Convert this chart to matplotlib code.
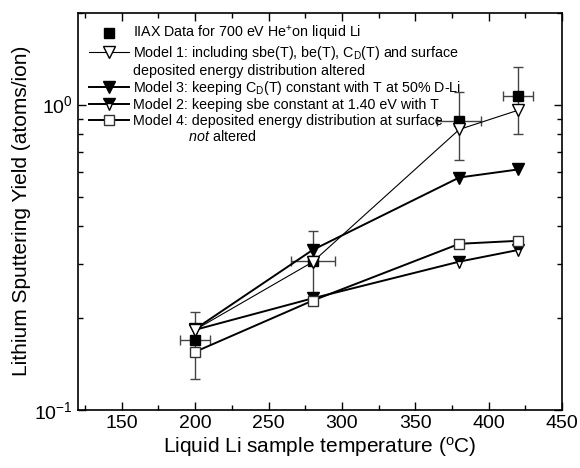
import numpy as np
import matplotlib
matplotlib.use("Agg")
import matplotlib.pyplot as plt
import matplotlib.ticker as mticker

plt.rcParams.update({
    "font.family":      ["Liberation Sans", "DejaVu Sans"],
    "mathtext.fontset": "custom",
    "mathtext.rm":      "Liberation Sans",
    "mathtext.it":      "Liberation Sans:italic",
    "mathtext.bf":      "Liberation Sans:bold",
    "axes.linewidth":   1.2,
    "xtick.direction":  "in",
    "ytick.direction":  "in",
    "xtick.top":        True,
    "ytick.right":      True,
})

# IIAX measurement, 700 eV He+ on liquid Li
temp_exp   = [200, 280, 380, 420]
yield_exp  = [0.169, 0.308, 0.882, 1.067]
yerr_lo    = [0.043, 0.079, 0.224, 0.267]
yerr_hi    = [0.041, 0.078, 0.218, 0.263]
xerr_exp   = [10, 15, 15, 10]

# model calculations
temp_model = [200, 280, 380, 420]
model1 = [0.183, 0.305, 0.829, 0.958]
model3 = [0.184, 0.334, 0.577, 0.613]
model2 = [0.183, 0.232, 0.306, 0.334]
model4 = [0.155, 0.228, 0.350, 0.358]

fig = plt.figure(figsize=(5.8, 4.68), dpi=100)
ax = fig.add_axes([0.134, 0.124, 0.835, 0.849])

eb = ax.errorbar(temp_exp, yield_exp, yerr=[yerr_lo, yerr_hi], xerr=xerr_exp,
                 fmt="s", color="black", ms=7, ecolor="#444444", elinewidth=1.0,
                 capsize=3.5, capthick=1.0, zorder=3)
h1, = ax.plot(temp_model, model1, color="black", lw=0.8, marker="v", ms=8,
              mfc="white", mec="black", mew=1.0, zorder=5)
h3, = ax.plot(temp_model, model3, color="black", lw=1.4, marker="v", ms=8,
              mfc="black", mec="black", zorder=4)
h2, = ax.plot(temp_model, model2, color="black", lw=1.4, marker="v", ms=8,
              fillstyle="top", mfc="black", mfcalt="white", mec="black",
              mew=1.0, zorder=4)
h4, = ax.plot(temp_model, model4, color="black", lw=1.4, marker="s", ms=7,
              mfc="white", mec="#333333", mew=1.0, zorder=6)
blank, = ax.plot([], [], ls="none")

handles = [eb[0], h1, blank, h3, h2, h4, blank]
labels = [
    "IIAX Data for 700 eV He$^{+}$on liquid Li",
    "Model 1: including sbe(T), be(T), C$_{\\mathrm{D}}$(T) and surface",
    "deposited energy distribution altered",
    "Model 3: keeping C$_{\\mathrm{D}}$(T) constant with T at 50% D-Li",
    "Model 2: keeping sbe constant at 1.40 eV with T",
    "Model 4: deposited energy distribution at surface",
    "              $\\it{not}$ altered",
]

ax.set_yscale("log")
ax.set_xlim(120, 450)
ax.set_ylim(0.1, 2)
ax.xaxis.set_major_locator(mticker.MultipleLocator(50))
ax.xaxis.set_minor_locator(mticker.MultipleLocator(25))
ax.yaxis.set_major_locator(mticker.LogLocator(base=10, numticks=5))
ax.yaxis.set_minor_locator(mticker.LogLocator(base=10, subs=np.arange(2, 10), numticks=10))
ax.yaxis.set_minor_formatter(mticker.NullFormatter())
ax.tick_params(which="major", length=6, width=1.0, labelsize=14)
ax.tick_params(which="minor", length=3.5, width=1.0)

ax.set_xlabel("Liquid Li sample temperature ($^{\\mathrm{o}}$C)", fontsize=15, labelpad=2)
ax.set_ylabel("Lithium Sputtering Yield (atoms/ion)", fontsize=15, labelpad=2)

ax.legend(handles, labels, loc="upper left", bbox_to_anchor=(0.0, 1.0),
          frameon=False, fontsize=10.3, handlelength=2.8, handletextpad=0.25,
          labelspacing=0.09, borderpad=0.5, borderaxespad=0.3)

fig.savefig("out.png", dpi=100)
